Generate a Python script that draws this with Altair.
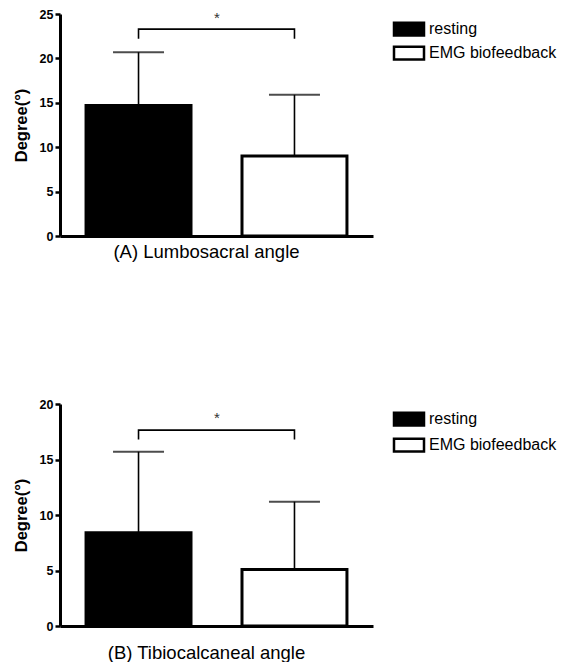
import altair as alt
import pandas as pd

groups = ["resting", "EMG biofeedback"]
bar_fill = ["black", "white"]

lumbo_mean = [14.7, 9.0]
lumbo_sd = [6.0, 6.9]
lumbo_bracket = [22.2, 23.3]   # bracket foot, bracket top
lumbo_star = 24.5

tibio_mean = [8.4, 5.1]
tibio_sd = [7.3, 6.1]
tibio_bracket = [16.8, 17.65]
tibio_star = 18.7

panel_titles = ["(A) Lumbosacral angle", "(B) Tibiocalcaneal angle"]
y_max = [25, 20]
y_ticks = [[0, 5, 10, 15, 20, 25], [0, 5, 10, 15, 20]]

FONT = "Liberation Sans"


def panel(means, sds, bracket, star_y, title, ymax, ticks, title_pad, row_pad):
    df = pd.DataFrame({
        "group": groups,
        "mean": means,
        "top": [m + s for m, s in zip(means, sds)],
    })
    br = pd.DataFrame({
        "group": [groups[0], groups[0], groups[1], groups[1]],
        "v": [bracket[0], bracket[1], bracket[1], bracket[0]],
        "k": [0, 1, 2, 3],
    })
    star = pd.DataFrame({"s": ["*"], "v": [star_y]})

    xaxis = alt.Axis(title=title, labels=False, ticks=False, domainWidth=3,
                     domainColor="black", titleFont=FONT, titleFontSize=18.5,
                     titleFontWeight="normal", titleColor="black",
                     titlePadding=title_pad, titleX=146, titleAlign="center")
    xs = alt.Scale(domain=groups, paddingInner=0.327, paddingOuter=0.167)
    x = alt.X("group:N", sort=groups, scale=xs, axis=xaxis)

    ys = alt.Scale(domain=[0, ymax], nice=False)
    yaxis = alt.Axis(title="Degree(°)", values=ticks, grid=False, domainWidth=3,
                     domainColor="black", tickWidth=2.5, tickSize=5,
                     tickColor="black", labelFont=FONT, labelFontWeight="bold",
                     labelFontSize=12.5, labelColor="black", labelPadding=2,
                     titleFont=FONT, titleFontWeight="bold", titleFontSize=16.5,
                     titleColor="black", titlePadding=10)

    whisk = alt.Chart(df).mark_rule(color="black", strokeWidth=1.6).encode(
        x=x, y=alt.Y("mean:Q", scale=ys, axis=yaxis), y2="top:Q")
    caps = alt.Chart(df).mark_tick(color="black", thickness=2, size=51).encode(
        x=x, y=alt.Y("top:Q", scale=ys, axis=yaxis))
    bars = alt.Chart(df).mark_bar(stroke="black", strokeWidth=3).encode(
        x=x, y=alt.Y("mean:Q", scale=ys, axis=yaxis),
        fill=alt.Fill("group:N", sort=groups,
                      scale=alt.Scale(domain=groups, range=bar_fill),
                      legend=alt.Legend(
                          title=None, orient="none", legendX=340, legendY=6,
                          symbolType="M-2,-0.85H2V0.85H-2Z", symbolSize=225,
                          symbolStrokeColor="black", symbolStrokeWidth=2.5,
                          labelFont=FONT, labelFontSize=16, labelColor="black",
                          labelOffset=11, rowPadding=row_pad, padding=0,
                          labelLimit=300)))
    brk = alt.Chart(br).mark_line(color="black", strokeWidth=1.6,
                                  interpolate="linear").encode(
        x=x, y=alt.Y("v:Q", scale=ys, axis=yaxis), order="k:Q")
    txt = alt.Chart(star).mark_text(font=FONT, fontSize=15, color="#333333",
                                    baseline="middle").encode(
        x=alt.value(157), y=alt.Y("v:Q", scale=ys, axis=yaxis), text="s:N")

    return alt.layer(whisk, caps, bars, brk, txt).properties(width=313, height=222)


pA = panel(lumbo_mean, lumbo_sd, lumbo_bracket, lumbo_star, panel_titles[0],
           y_max[0], y_ticks[0], 6, 0)
pB = panel(tibio_mean, tibio_sd, tibio_bracket, tibio_star, panel_titles[1],
           y_max[1], y_ticks[1], 17, 2)

chart = alt.vconcat(pA, pB, spacing=137).resolve_scale(
    fill="independent").resolve_legend(fill="independent").properties(
    padding={"left": 5, "top": 0, "right": 0, "bottom": 0},
    background="white",
).configure_view(stroke=None)

chart.save("out.html", embed_options={"renderer": "svg", "actions": False})
